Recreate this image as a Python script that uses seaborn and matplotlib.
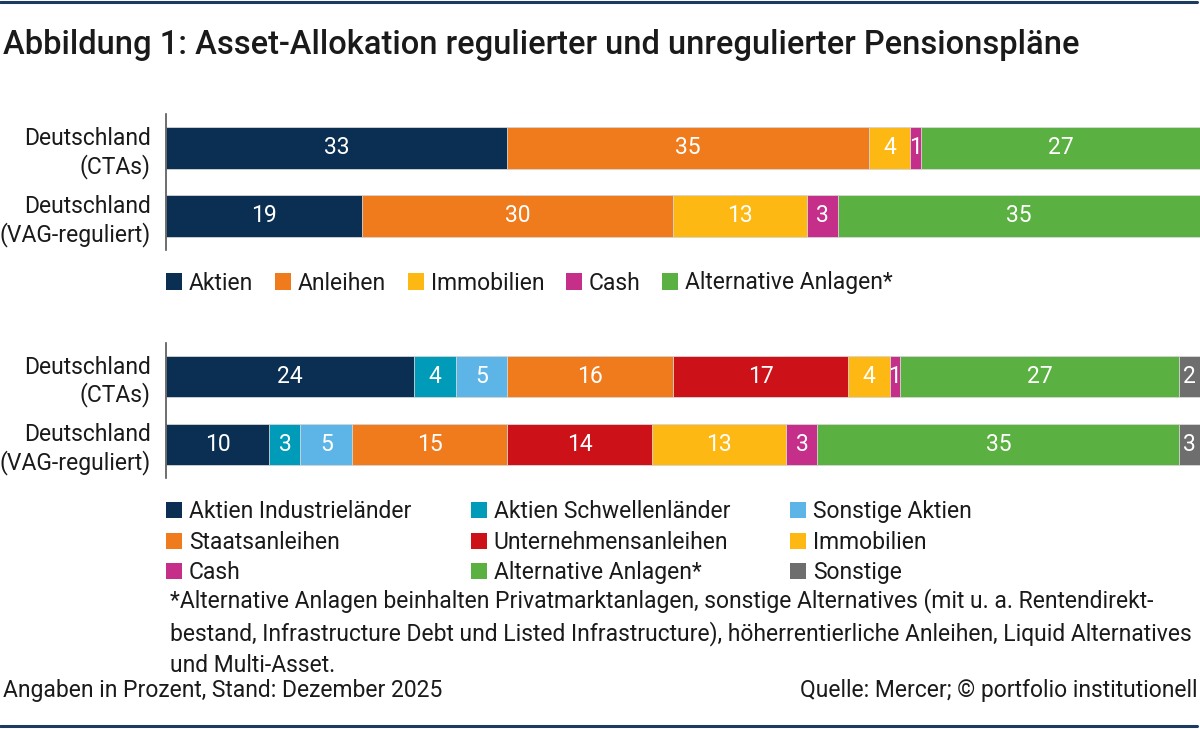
import matplotlib
matplotlib.use("Agg")
import matplotlib.pyplot as plt
from matplotlib.patches import Patch
from matplotlib.lines import Line2D
import seaborn as sns

# data
rows = ["Deutschland\n(CTAs)", "Deutschland\n(VAG-reguliert)"]

top_cats = ["Aktien", "Anleihen", "Immobilien", "Cash", "Alternative Anlagen*"]
top_vals = {
    "Aktien": [33, 19],
    "Anleihen": [35, 30],
    "Immobilien": [4, 13],
    "Cash": [1, 3],
    "Alternative Anlagen*": [27, 35],
}

bot_cats = ["Aktien Industrieländer", "Aktien Schwellenländer", "Sonstige Aktien",
            "Staatsanleihen", "Unternehmensanleihen", "Immobilien", "Cash",
            "Alternative Anlagen*", "Sonstige"]
bot_vals = {
    "Aktien Industrieländer": [24, 10],
    "Aktien Schwellenländer": [4, 3],
    "Sonstige Aktien": [5, 5],
    "Staatsanleihen": [16, 15],
    "Unternehmensanleihen": [17, 14],
    "Immobilien": [4, 13],
    "Cash": [1, 3],
    "Alternative Anlagen*": [27, 35],
    "Sonstige": [2, 3],
}

colors = {
    "Aktien": "#0b2f52",
    "Aktien Industrieländer": "#0b2f52",
    "Aktien Schwellenländer": "#009bb9",
    "Sonstige Aktien": "#5cb5e6",
    "Anleihen": "#f07b1d",
    "Staatsanleihen": "#f07b1d",
    "Unternehmensanleihen": "#cc1118",
    "Immobilien": "#fdb813",
    "Cash": "#c52f8a",
    "Alternative Anlagen*": "#5ab040",
    "Sonstige": "#6e6e6e",
}

title = "Abbildung 1: Asset-Allokation regulierter und unregulierter Pensionspläne"
footnote = ("*Alternative Anlagen beinhalten Privatmarktanlagen, sonstige Alternatives (mit u. a. Rentendirekt-\n"
            "bestand, Infrastructure Debt und Listed Infrastructure), höherrentierliche Anleihen, Liquid Alternatives\n"
            "und Multi-Asset.")
note_left = "Angaben in Prozent, Stand: Dezember 2025"
note_right = "Quelle: Mercer; © portfolio institutionell"

sns.set_theme(style="white")
plt.rcParams["font.family"] = ["Roboto", "DejaVu Sans"]
TXT = "#1a1a1a"
FS = 16.5

fig = plt.figure(figsize=(12, 7.29), dpi=100)
ax1 = fig.add_axes([166 / 1200, 1 - 250 / 729, 1 - 166 / 1200, 136 / 729])
ax2 = fig.add_axes([166 / 1200, 1 - 478 / 729, 1 - 166 / 1200, 135 / 729])


def stacked(ax, cats, vals):
    cums = []
    run = [0] * len(rows)
    for c in cats:
        run = [r + v for r, v in zip(run, vals[c])]
        cums.append(list(run))
    # draw cumulative totals from the outermost segment inward
    for c, cum in reversed(list(zip(cats, cums))):
        sns.barplot(x=cum, y=rows, color=colors[c], orient="h", width=0.61,
                    edgecolor="#d9d9d9", linewidth=0.6, saturation=1, ax=ax)
    for c, cum in zip(cats, cums):
        for i, (v, end) in enumerate(zip(vals[c], cum)):
            start = end - v
            mid = (start + min(end, 100)) / 2
            ax.text(mid, i, str(v), color="white", ha="center", va="center",
                    fontsize=FS)
    ax.set_xlim(0, 100)
    ax.set_ylim(1.5, -0.5)
    ax.set_xlabel("")
    ax.set_ylabel("")
    ax.set_xticks([])
    for s in ["top", "right", "bottom"]:
        ax.spines[s].set_visible(False)
    ax.spines["left"].set_color("#555555")
    ax.spines["left"].set_linewidth(1.2)
    ax.tick_params(axis="y", length=0, pad=11, labelsize=FS, labelcolor=TXT)
    for lab in ax.get_yticklabels():
        lab.set_horizontalalignment("right")
        lab.set_multialignment("right")


stacked(ax1, top_cats, top_vals)
stacked(ax2, bot_cats, bot_vals)

# legends
h1 = [Patch(facecolor=colors[c], edgecolor="none", label=c) for c in top_cats]
fig.legend(handles=h1, loc="center left", bbox_to_anchor=(166 / 1200, 1 - 283 / 729),
           ncol=5, frameon=False, fontsize=FS, handlelength=0.7, handleheight=0.7,
           handletextpad=0.3, columnspacing=0.95, borderpad=0, borderaxespad=0,
           labelcolor=TXT)

order = [0, 3, 6, 1, 4, 7, 2, 5, 8]
h2 = [Patch(facecolor=colors[bot_cats[k]], edgecolor="none", label=bot_cats[k]) for k in order]
fig.legend(handles=h2, loc="upper left", bbox_to_anchor=(166 / 1200, 1 - 500 / 729),
           ncol=3, frameon=False, fontsize=FS, handlelength=0.7, handleheight=0.7,
           handletextpad=0.3, columnspacing=2.6, labelspacing=0.33, borderpad=0,
           borderaxespad=0, labelcolor=TXT)

fig.text(170 / 1200, 1 - 588 / 729, footnote, ha="left", va="top", fontsize=FS,
         linespacing=1.42, color=TXT)

fig.text(3 / 1200, 1 - 45 / 729, title, ha="left", va="center", fontsize=23.5,
         fontweight="medium", color=TXT)
fig.text(3 / 1200, 1 - 691 / 729, note_left, ha="left", va="center", fontsize=FS, color=TXT)
fig.text(1197 / 1200, 1 - 691 / 729, note_right, ha="right", va="center", fontsize=FS, color=TXT)

# horizontal rules
for y in [1 - 2 / 729, 1 - 726 / 729]:
    fig.add_artist(Line2D([0, 1197 / 1200], [y, y], color="#1d3b5e", linewidth=2.2))

fig.savefig("out.png", dpi=100)
